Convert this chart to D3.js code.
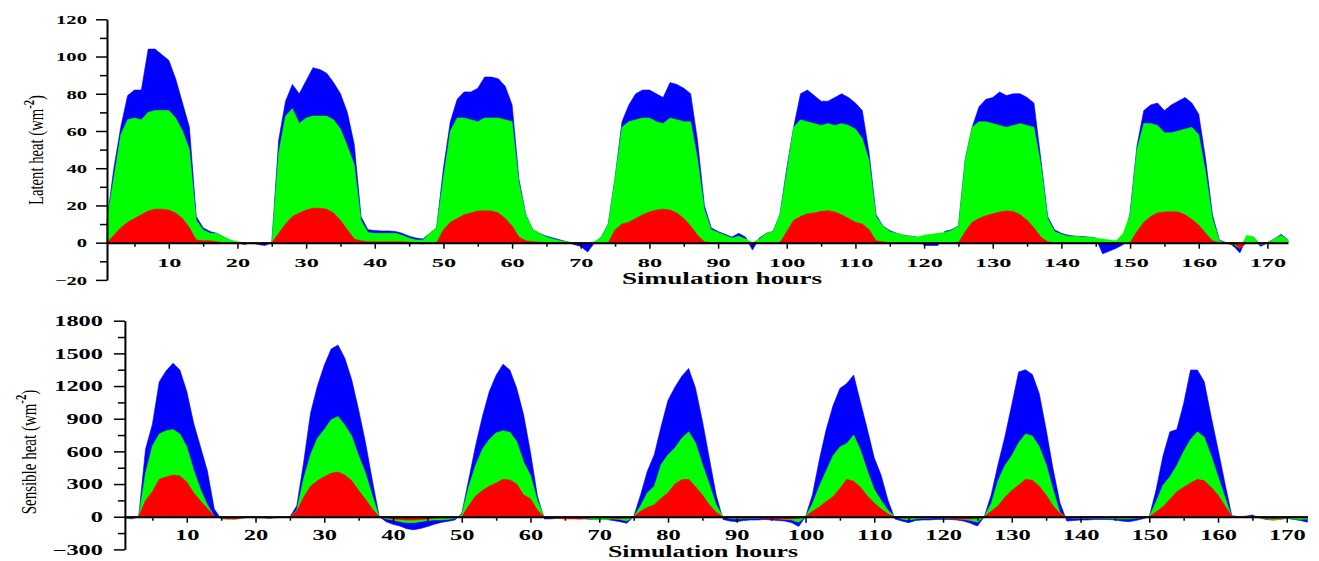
<!DOCTYPE html>
<html>
<head>
<meta charset="utf-8">
<script src="https://cdnjs.cloudflare.com/ajax/libs/d3/7.8.5/d3.min.js"></script>
<style>
  body { margin: 0; background: #fff; }
  svg { display: block; }
  .axis text { font-family: "Liberation Serif", "Times New Roman", serif; font-weight: bold; fill: #000; }
  .axis path, .axis line { stroke: #000; }
  .ylabel { font-family: "Liberation Serif", "Times New Roman", serif; fill: #000; }
  .xtitle { font-family: "Liberation Serif", "Times New Roman", serif; font-weight: bold; fill: #000; }
</style>
</head>
<body>
<script>
// hours 1..173, one value per hour (rows = 24 h)
const hours = d3.range(1, 174)

// latent heat (W m-2)
const latentBlue = [
  12, 40, 62, 79, 82, 82, 104, 104, 101, 98, 88, 75, 62, 14, 8, 6, 5, 3, 1, 0, -1, 0, -1, -1.5,
  0, 55, 76, 85, 80, 87, 94, 93, 91, 86, 80, 70, 53, 14, 7, 6.5, 6.3, 6.3, 6, 5, 3.5, 2.5, 2, 5,
  8, 40, 65, 77, 81, 81, 83, 89, 89, 88, 84, 74, 34, 15, 7, 5, 3.5, 2.5, 1.5, 0.5, -1, -2, -5, 0,
  3, 10, 35, 65, 74, 80, 82, 82, 80, 78, 86, 85, 83, 80, 55, 20, 8, 6, 4.5, 3, 5, 3, -4, 2.5,
  5, 6, 15, 40, 62, 80, 82, 79, 76, 76, 78, 80, 78, 75, 71, 48, 15, 9, 6.5, 5, 4, 3.5, 3, -1.5,
  -1.5, -1.5, 6, 7, 9, 45, 62, 73, 77, 78, 81, 79, 80, 80, 78, 75, 45, 14, 7, 5, 4, 3.5, 3.3, 3,
  2.5, -6, -4.5, -3, -1, 16, 52, 71, 74, 75, 71, 74, 76, 78, 75, 69, 45, 15, 1.5, 0, -1.5, -5.5, 3, 3,
  -2, 0, 2, 4.5, 1.5
]
const latentGreen = [
  12, 35, 58, 66, 67, 66, 70, 71, 71, 71, 67, 60, 50, 12, 7, 5, 5, 3, 1.5, 0.5, 0, 0, 0, 0,
  0, 48, 68, 72, 64, 67, 68, 68, 68, 66, 61, 52, 42, 12, 5.5, 5, 5, 5, 5, 4, 2.5, 1.5, 1.5, 5,
  8, 35, 60, 67, 67, 66, 65, 67, 67, 67, 66, 65, 32, 15, 7, 5, 3, 2, 1, 0.5, 0, 0, 0, 0.5,
  3, 10, 35, 62, 65, 66, 67, 67, 65, 64, 67, 66, 65, 65, 45, 18, 7, 5.5, 4, 2.5, 3.5, 2, 0, 2,
  5, 6, 15, 38, 62, 66, 65, 64, 63, 64, 63, 64, 63, 61, 56, 44, 14, 9, 6, 5, 4, 3.5, 3, 4,
  4.5, 5, 5.5, 6.5, 9, 45, 62, 65, 65, 64, 63, 62, 63, 64, 63, 62, 42, 13, 6, 4.5, 3.5, 3.5, 3, 3,
  2.5, 2, 1.5, 1, 5, 15, 50, 64, 64, 63, 59, 59, 60, 61, 62, 58, 38, 13, 1, 0, -1, -3, 4, 3,
  -1, 0, 2, 4, 1.5
]
const latentRed = [
  0, 4, 8, 11, 13, 15, 17, 18, 18, 17.5, 16, 13, 8, 1.5, 1, 1, 0.5, 0, 0, 0, 0, 0, 0, 0,
  0, 5, 10, 14, 16, 17.5, 18.5, 18.5, 18, 16, 12, 7, 2, 1, 0.5, 0.5, 0.5, 0.5, 0.5, 0.5, 0.3, 0, -0.7, 0,
  0, 7, 11, 13, 15, 16, 17, 17.2, 17, 16, 13, 9, 3, 1, 0.5, 0.3, 0, 0, 0, 0, 0, 0, 0, 0,
  0, 0, 7, 10, 11, 13, 15, 16.5, 17.5, 18, 17.5, 16, 13, 9, 4, 0.5, 0, 0, 0, 0, 0, 0, 0, 0,
  0, 0, 0, 6, 12, 14, 15.5, 16, 16.8, 17.2, 16.5, 15, 13, 11, 10, 7, 1, 0.5, 0, 0, 0, 0, 0, 0,
  0, 0, 0, 0, 0, 6, 11, 13, 14.5, 15.5, 16.5, 17, 16.8, 15, 12, 8, 3, 0.5, 0, 0, 0, 0, 0, 0,
  0, 0, 0, 0, 0, 0, 6, 11, 14, 16, 16.5, 16.6, 16.5, 15, 12.5, 9.5, 5, 1, 0, 0, 0, -3, 0, 0,
  0, 0, 0, 0, 0
]

// sensible heat (W m-2)
const sensibleBlue = [
  -10, -20, 0, 620, 850, 1240, 1340, 1410, 1347, 1150, 860, 640, 420, 70, -20, -20, -10, -5, -5, -10, -10, -15, -10, -5,
  0, 100, 500, 950, 1200, 1390, 1540, 1576, 1454, 1255, 980, 680, 330, 0, -45, -70, -85, -110, -120, -108, -90, -70, -52, -42,
  -30, 30, 340, 650, 920, 1150, 1300, 1400, 1347, 1178, 934, 590, 190, -20, -20, -15, -15, -15, -20, -20, -25, -25, -25, -35,
  -45, -60, 0, 200, 420, 570, 830, 1070, 1190, 1290, 1362, 1180, 880, 540, 200, -25, -40, -45, -35, -30, -30, -25, -30, -35,
  -40, -55, -90, 0, 200, 520, 800, 1020, 1178, 1224, 1301, 1050, 800, 540, 380, 150, -20, -40, -55, -35, -30, -30, -25, -25,
  -25, -30, -40, -60, -86, 0, 200, 480, 735, 1030, 1330, 1350, 1305, 1130, 800, 440, 130, -40, -35, -30, -30, -25, -25, -25,
  -30, -40, -45, -35, -20, 0, 250, 560, 780, 800, 1040, 1347, 1347, 1240, 920, 620, 310, 10, 0, 5, 15, -10, -25, -30,
  -25, -15, -25, -35, -50
]
const sensibleGreen = [
  -5, -15, 0, 400, 650, 760, 790, 800, 760, 643, 430, 250, 110, 5, -15, -20, -25, -10, -5, -5, -5, -5, -5, -5,
  0, 60, 350, 570, 720, 800, 890, 920, 840, 740, 560, 400, 190, 0, -20, -30, -45, -55, -55, -45, -35, -30, -30, -25,
  -15, 20, 275, 470, 620, 710, 770, 790, 775, 690, 500, 380, 150, 0, -10, -10, -10, -10, -10, -15, -25, -30, -25, -20,
  -25, -40, 0, 100, 220, 280, 480, 570, 630, 720, 780, 680, 480, 300, 110, 0, -15, -20, -15, -15, -15, -10, -15, -20,
  -25, -30, -50, 0, 120, 280, 420, 560, 640, 673, 750, 610, 420, 250, 150, 60, 0, -20, -30, -20, -15, -15, -10, -15,
  -15, -20, -25, -35, -50, 0, 120, 330, 470, 560, 680, 760, 741, 643, 480, 250, 40, -10, -15, -15, -15, -15, -15, -15,
  -20, -20, -20, -15, -10, 0, 140, 290, 367, 470, 600, 710, 780, 730, 560, 370, 180, 0, 0, 0, 0, -10, -20, -31,
  -25, -15, -20, -25, -20
]
const sensibleRed = [
  0, 0, 0, 150, 230, 345, 365, 383, 375, 320, 220, 145, 75, 5, -10, -20, -20, -15, -5, 0, 0, 0, 0, 0,
  0, 50, 180, 280, 330, 367, 400, 410, 383, 330, 240, 160, 70, 0, -10, -20, -25, -30, -30, -25, -20, -15, -10, -10,
  -5, 0, 100, 190, 240, 280, 310, 343, 337, 300, 200, 165, 60, 0, -10, -15, -20, -20, -20, -15, -10, -10, -10, -15,
  -15, -15, 0, 50, 85, 110, 170, 220, 300, 340, 343, 275, 200, 110, 40, 0, -5, -5, -5, -5, -10, -15, -20, -20,
  -20, -20, -15, 0, 50, 90, 140, 184, 260, 343, 325, 270, 190, 125, 70, 25, 0, -10, -10, -5, -5, -5, -5, -10,
  -15, -20, -20, -20, -15, 0, 50, 100, 180, 240, 291, 343, 335, 280, 200, 100, 30, 0, -5, -5, -10, -10, -5, -5,
  -5, -5, -5, -5, -5, 0, 45, 92, 160, 230, 270, 310, 343, 330, 270, 200, 100, 5, 0, 0, 0, -5, -15, -20,
  -15, -10, -5, -5, -5
]

// axis ticks
const xMajorTicks = [10, 20, 30, 40, 50, 60, 70, 80, 90, 100, 110, 120, 130, 140, 150, 160, 170]
const xMinorTicks = [5, 15, 25, 35, 45, 55, 65, 75, 85, 95, 105, 115, 125, 135, 145, 155, 165]
const latentTicks = [-20, 0, 20, 40, 60, 80, 100, 120]
const latentMinor = [-10, 10, 30, 50, 70, 90, 110]
const sensibleTicks = [-300, 0, 300, 600, 900, 1200, 1500, 1800]
const sensibleMinor = [-150, 150, 450, 750, 1050, 1350, 1650]

const BLUE = '#0000ff'
const GREEN = '#00ff00'
const RED = '#ff0000'

const width = 1319
const height = 561

const svg = d3.select('body').append('svg')
  .attr('width', width)
  .attr('height', height)

drawPanel({
  series: [latentBlue, latentGreen, latentRed],
  xRange: [107, 1288],
  yDomain: [-20, 120],
  yRange: [279.9, 19.3],
  yTicks: latentTicks,
  yMinor: latentMinor,
  yFont: 12.5, yScaleX: 1.65, yGap: 20,
  xFont: 13.5, xScaleX: 1.8, xLabelDy: 24,
  label: 'Latent heat (wm', labelX: 43, labelY: 150, labelFont: 14.7, labelStretch: 1.4,
  title: 'Simulation hours', titleX: 722, titleY: 284, titleFont: 16, titleScaleX: 1.7,
})

drawPanel({
  series: [sensibleBlue, sensibleGreen, sensibleRed],
  xRange: [124.9, 1307.4],
  yDomain: [-300, 1800],
  yRange: [549.4, 320.7],
  yTicks: sensibleTicks,
  yMinor: sensibleMinor,
  yFont: 14.5, yScaleX: 1.68, yGap: 22,
  xFont: 14, xScaleX: 1.75, xLabelDy: 23,
  label: 'Sensible heat (wm', labelX: 36, labelY: 452, labelFont: 15, labelStretch: 1.42,
  title: 'Simulation hours', titleX: 703, titleY: 557, titleFont: 17, titleScaleX: 1.52,
})

function drawPanel(p) {
  const x = d3.scaleLinear().domain([1, 173]).range(p.xRange)
  const y = d3.scaleLinear().domain(p.yDomain).range(p.yRange)

  const area = d3.area()
    .x(function(d, i) { return x(hours[i]) })
    .y0(y(0))
    .y1(function(d) { return y(d) })

  const colors = [BLUE, GREEN, RED]
  const g = svg.append('g')
  p.series.forEach(function(values, i) {
    g.append('path')
      .datum(values)
      .attr('fill', colors[i])
      .attr('stroke', colors[i])
      .attr('stroke-width', 0.6)
      .attr('d', area)
  })

  // x axis sits on the zero line
  const gx = svg.append('g')
    .attr('class', 'axis')
    .attr('transform', 'translate(0,' + y(0) + ')')
    .call(d3.axisBottom(x).tickValues(xMajorTicks).tickSize(6).tickSizeOuter(0))
  gx.select('.domain').attr('stroke-width', 2)
  gx.selectAll('.tick line').attr('stroke-width', 1.5)
  gx.selectAll('.tick text')
    .attr('y', 0)
    .attr('dy', 0)
    .attr('transform', 'translate(0,' + p.xLabelDy + ') scale(' + p.xScaleX + ',1)')
    .style('font-size', p.xFont + 'px')

  const gxm = svg.append('g')
    .attr('class', 'axis')
    .attr('transform', 'translate(0,' + y(0) + ')')
    .call(d3.axisBottom(x).tickValues(xMinorTicks).tickSize(4).tickFormat(''))
  gxm.select('.domain').remove()
  gxm.selectAll('.tick line').attr('stroke-width', 1.5)

  // y axis
  const gy = svg.append('g')
    .attr('class', 'axis')
    .attr('transform', 'translate(' + p.xRange[0] + ',0)')
    .call(d3.axisLeft(y).tickValues(p.yTicks).tickSize(11).tickSizeOuter(0).tickFormat(d3.format('d')))
  gy.select('.domain').attr('stroke-width', 2)
  gy.selectAll('.tick line').attr('stroke-width', 1.5)
  gy.selectAll('.tick text')
    .attr('x', null)
    .attr('dy', '0.34em')
    .attr('transform', 'translate(' + (-p.yGap) + ',0) scale(' + p.yScaleX + ',1)')
    .style('font-size', p.yFont + 'px')

  const gym = svg.append('g')
    .attr('class', 'axis')
    .attr('transform', 'translate(' + p.xRange[0] + ',0)')
    .call(d3.axisLeft(y).tickValues(p.yMinor).tickSize(7).tickFormat(''))
  gym.select('.domain').remove()
  gym.selectAll('.tick line').attr('stroke-width', 1.5)

  // y label with superscript
  const lbl = svg.append('text')
    .attr('class', 'ylabel')
    .attr('text-anchor', 'middle')
    .attr('transform', 'translate(' + p.labelX + ',' + p.labelY + ') rotate(-90) scale(1,' + p.labelStretch + ')')
    .style('font-size', p.labelFont + 'px')
  lbl.append('tspan').text(p.label)
  lbl.append('tspan')
    .attr('dy', -p.labelFont * 0.45)
    .style('font-size', (p.labelFont * 0.72) + 'px')
    .style('font-weight', 'bold')
    .text('-2')
  lbl.append('tspan')
    .attr('dy', p.labelFont * 0.45)
    .text(')')

  svg.append('text')
    .attr('class', 'xtitle')
    .attr('text-anchor', 'middle')
    .attr('transform', 'translate(' + p.titleX + ',' + p.titleY + ') scale(' + p.titleScaleX + ',1)')
    .style('font-size', p.titleFont + 'px')
    .text(p.title)
}
</script>
</body>
</html>
